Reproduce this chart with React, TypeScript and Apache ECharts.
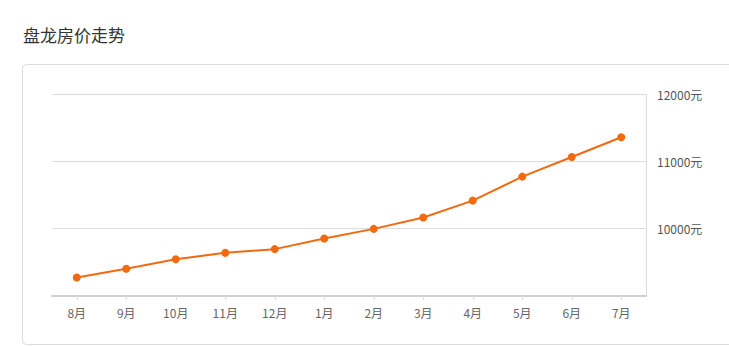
import React, { useEffect, useRef } from "react";
import * as echarts from "echarts";

const titleText = "盘龙房价走势";
const months = ["8月", "9月", "10月", "11月", "12月", "1月", "2月", "3月", "4月", "5月", "6月", "7月"];
const prices = [9275, 9404, 9547, 9641, 9696, 9853, 9997, 10165, 10417, 10773, 11065, 11357];
const yMin = 9000;
const yMax = 12000;
const yStep = 1000;

export default function App() {
  const ref = useRef<HTMLDivElement>(null);
  useEffect(() => {
    if (!ref.current) return;
    const chart = echarts.init(ref.current, undefined, { renderer: "svg" });
    const font = '"Noto Sans CJK SC", "Noto Sans", sans-serif';
    chart.setOption({
      animation: false,
      textStyle: { fontFamily: font },
      title: {
        text: titleText,
        left: 18,
        top: 21,
        textStyle: { fontSize: 17, fontWeight: "normal", color: "#333", fontFamily: font },
      },
      graphic: [
        {
          type: "rect",
          shape: { x: 22.5, y: 64.5, width: 720, height: 280, r: 4 },
          style: { fill: "none", stroke: "#dcdcdc", lineWidth: 1 },
          silent: true,
        },
      ],
      grid: { left: 52, right: 83, top: 94, bottom: 50, containLabel: false },
      xAxis: {
        type: "category",
        data: months,
        boundaryGap: true,
        axisLine: { show: true, lineStyle: { color: "#d0d0d0", width: 2 } },
        axisTick: { show: true, alignWithLabel: true, length: 4, lineStyle: { color: "#ddd" } },
        axisLabel: { color: "#666", fontSize: 12, margin: 10, fontFamily: font },
        splitLine: { show: false },
      },
      yAxis: {
        type: "value",
        position: "right",
        min: yMin,
        max: yMax,
        interval: yStep,
        axisLine: { show: true, lineStyle: { color: "#ddd", width: 1 } },
        axisTick: { show: false },
        axisLabel: {
          color: "#555",
          fontSize: 12,
          margin: 11,
          fontFamily: font,
          formatter: (v: number) => (v === yMin ? "" : v + "元"),
        },
        splitLine: { show: true, lineStyle: { color: "#ddd", width: 1 } },
      },
      series: [
        {
          type: "line",
          data: prices,
          symbol: "circle",
          symbolSize: 8,
          lineStyle: { color: "#f26a10", width: 2 },
          itemStyle: { color: "#f26a10" },
        },
      ],
    });
    return () => chart.dispose();
  }, []);
  return (
    <div
      ref={ref}
      style={{ position: "absolute", left: 0, top: 0, width: 729, height: 346, background: "#fff" }}
    />
  );
}
